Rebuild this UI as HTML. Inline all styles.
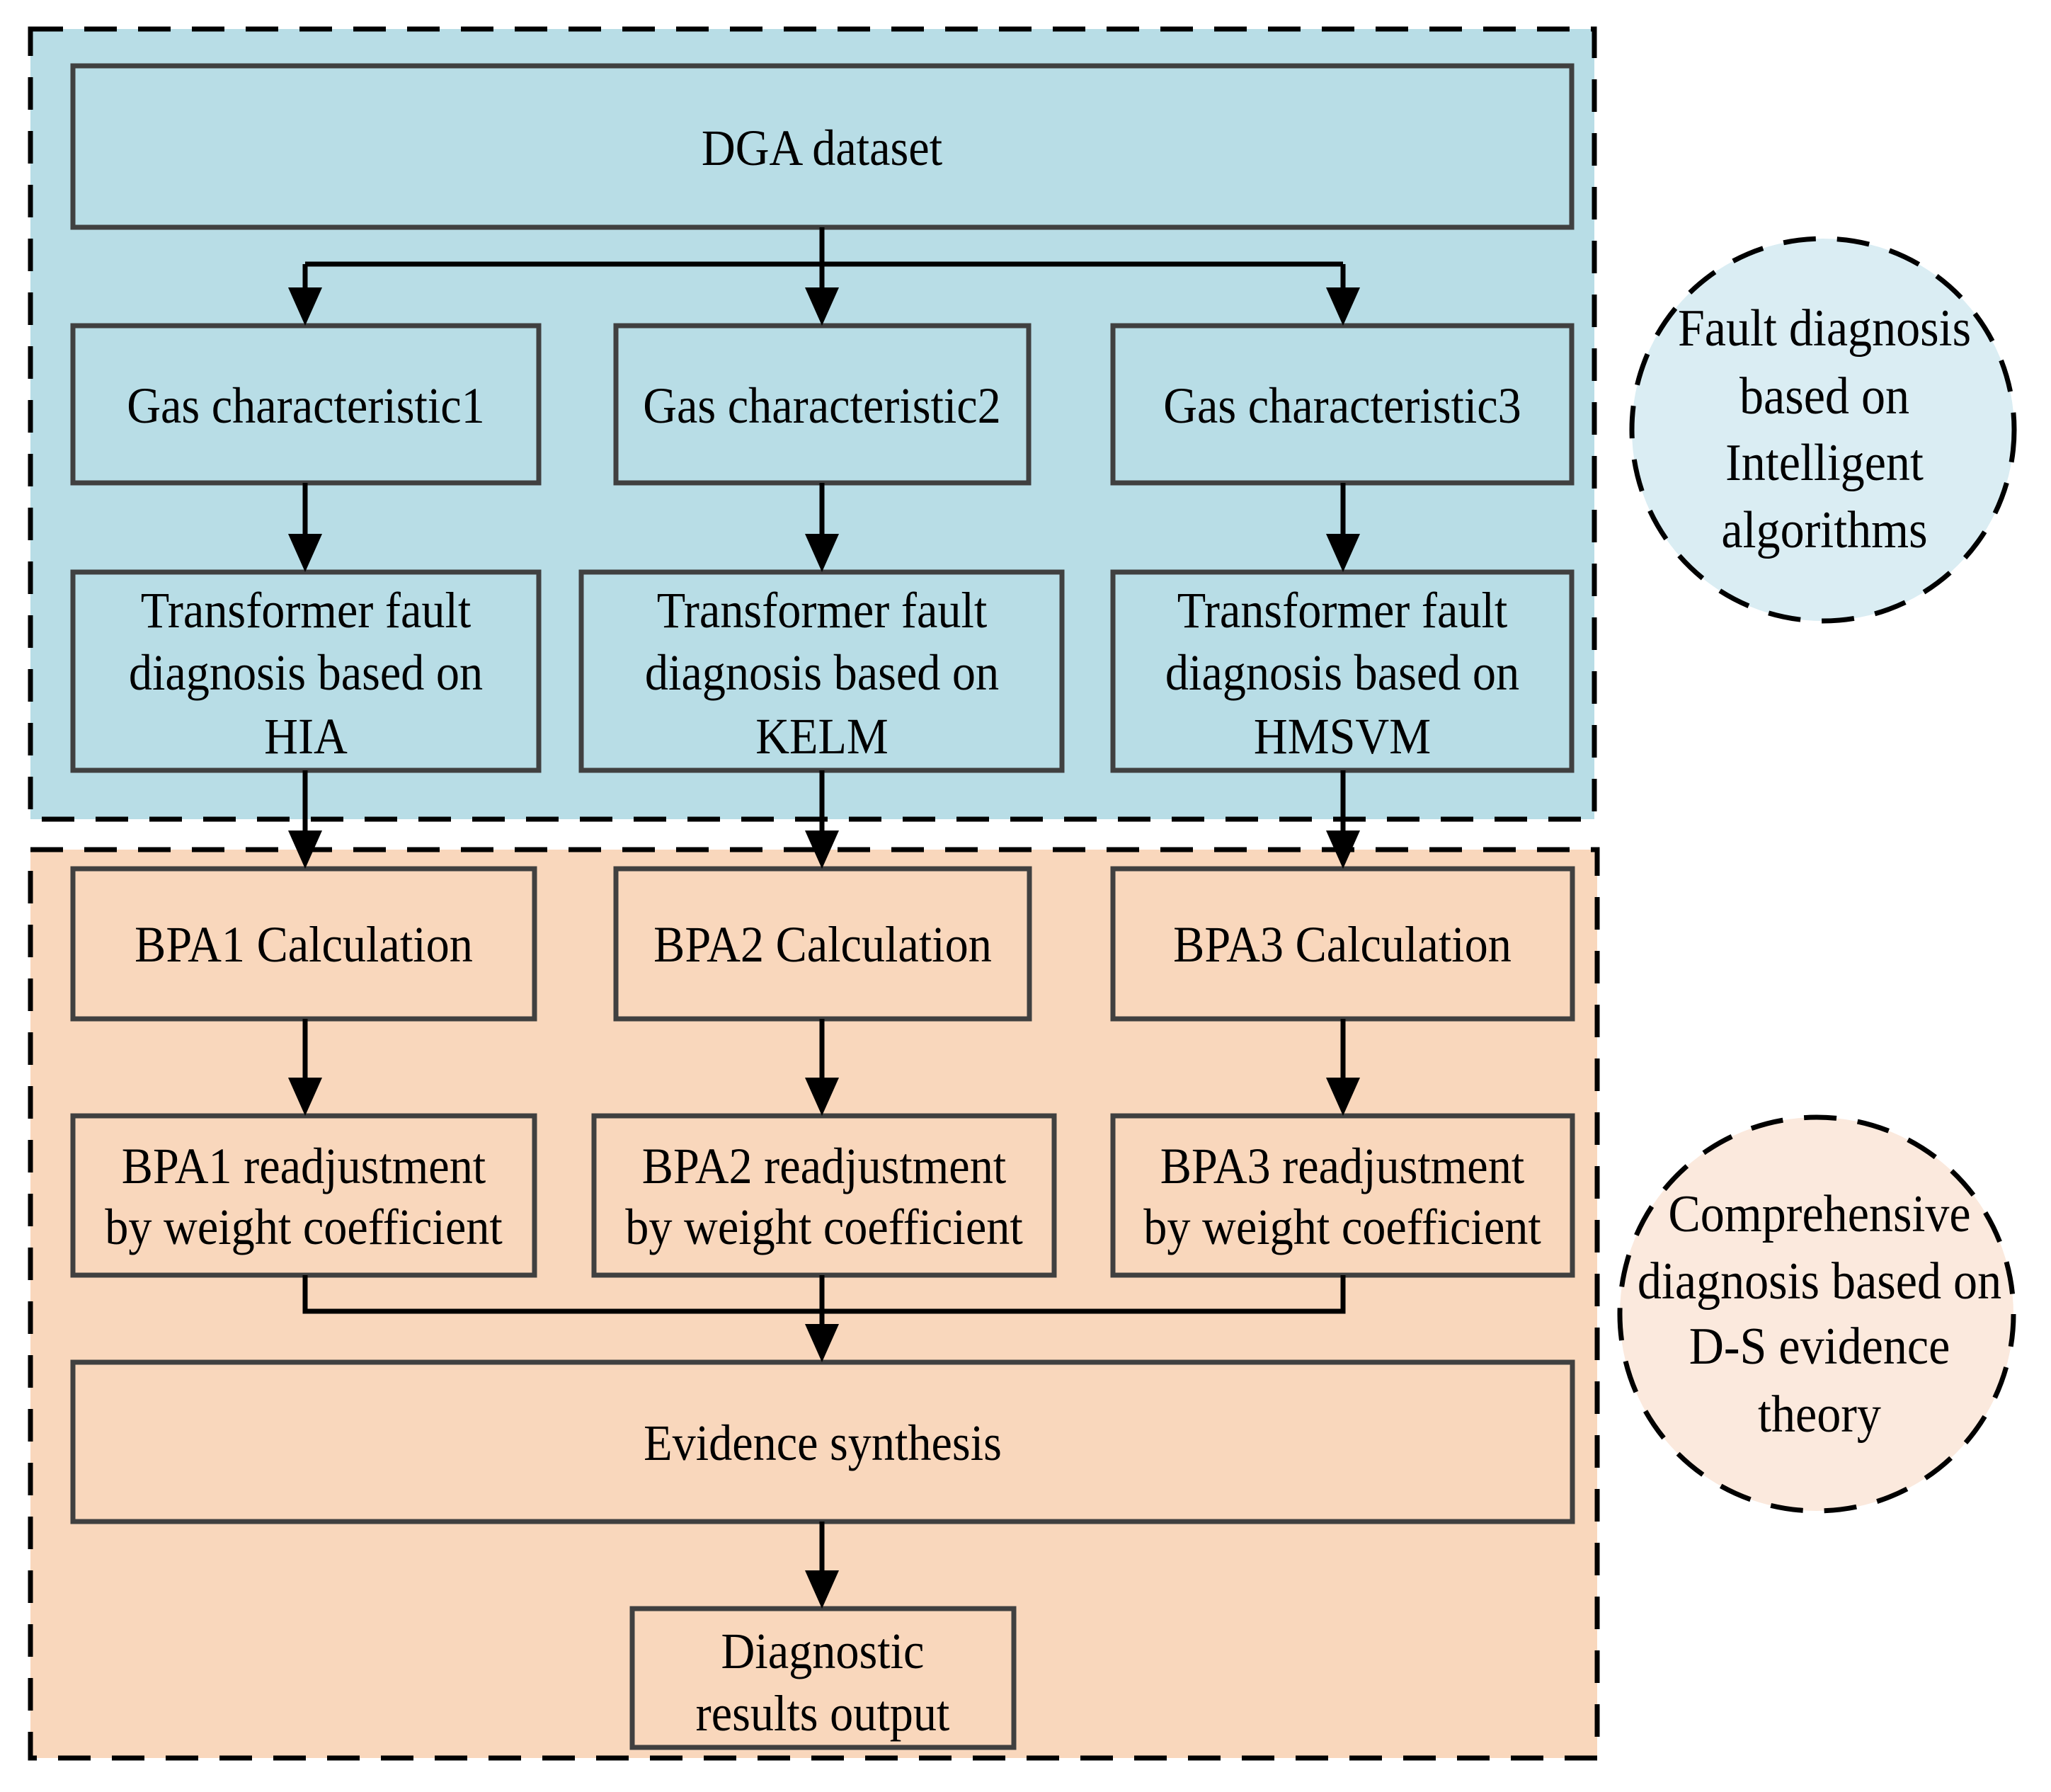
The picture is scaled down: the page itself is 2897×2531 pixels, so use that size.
<!DOCTYPE html>
<html><head><meta charset="utf-8"><style>
html,body{margin:0;padding:0;background:#fff}
svg{display:block}
text{font-family:"Liberation Serif",serif;font-size:72px;fill:#000;text-anchor:middle}
</style></head><body>
<svg width="2897" height="2531" viewBox="0 0 2897 2531" xmlns="http://www.w3.org/2000/svg">
<rect x="43" y="41" width="2209" height="1116" fill="#b8dde6" stroke="#000" stroke-width="7" stroke-dasharray="46,30"/>
<rect x="43" y="1200" width="2213" height="1283" fill="#f9d7bc" stroke="#000" stroke-width="7" stroke-dasharray="46,30"/>
<circle cx="2575" cy="607" r="270" fill="#daedf3" stroke="#000" stroke-width="7" stroke-dasharray="46,30"/>
<circle cx="2566" cy="1856" r="278" fill="#fbe9dd" stroke="#000" stroke-width="7" stroke-dasharray="46,30"/>

<g fill="none" stroke="#404040" stroke-width="7">
<rect x="103" y="93" width="2117" height="228"/>
<rect x="103" y="460" width="658" height="222"/>
<rect x="870" y="460" width="583" height="222"/>
<rect x="1572" y="460" width="648" height="222"/>
<rect x="103" y="808" width="658" height="280"/>
<rect x="821" y="808" width="679" height="280"/>
<rect x="1572" y="808" width="648" height="280"/>
<rect x="103" y="1227" width="652" height="212"/>
<rect x="870" y="1227" width="584" height="212"/>
<rect x="1572" y="1227" width="649" height="212"/>
<rect x="103" y="1576" width="652" height="225"/>
<rect x="839" y="1576" width="650" height="225"/>
<rect x="1572" y="1576" width="649" height="225"/>
<rect x="103" y="1924" width="2118" height="225"/>
<rect x="893" y="2272" width="539" height="196"/>
</g>

<g stroke="#000" stroke-width="7" fill="none">
<path d="M1161 321 V410 M431 373 H1897 M431 373 V410 M1897 373 V410"/>
<path d="M431 682 V758 M1161 682 V758 M1897 682 V758"/>
<path d="M431 1088 V1177 M1161 1088 V1177 M1897 1088 V1177"/>
<path d="M431 1439 V1526 M1161 1439 V1526 M1897 1439 V1526"/>
<path d="M431 1801 V1852 H1897 V1801 M1161 1801 V1874"/>
<path d="M1161 2149 V2222"/>
</g>
<g fill="#000">
<polygon points="407,406 455,406 431,460"/>
<polygon points="1137,406 1185,406 1161,460"/>
<polygon points="1873,406 1921,406 1897,460"/>
<polygon points="407,754 455,754 431,808"/>
<polygon points="1137,754 1185,754 1161,808"/>
<polygon points="1873,754 1921,754 1897,808"/>
<polygon points="407,1173 455,1173 431,1227"/>
<polygon points="1137,1173 1185,1173 1161,1227"/>
<polygon points="1873,1173 1921,1173 1897,1227"/>
<polygon points="407,1522 455,1522 431,1576"/>
<polygon points="1137,1522 1185,1522 1161,1576"/>
<polygon points="1873,1522 1921,1522 1897,1576"/>
<polygon points="1137,1870 1185,1870 1161,1924"/>
<polygon points="1137,2218 1185,2218 1161,2272"/>
</g>

<g transform="translate(1161,0) scale(0.92,1)"><text x="0" y="233">DGA dataset</text></g>
<g transform="translate(432,0) scale(0.92,1)"><text x="0" y="597">Gas characteristic1</text></g>
<g transform="translate(1161,0) scale(0.92,1)"><text x="0" y="597">Gas characteristic2</text></g>
<g transform="translate(1896,0) scale(0.92,1)"><text x="0" y="597">Gas characteristic3</text></g>

<g transform="translate(432,0) scale(0.92,1)"><text x="0" y="886">Transformer fault</text><text x="0" y="974">diagnosis based on</text><text x="0" y="1064">HIA</text></g>
<g transform="translate(1161,0) scale(0.92,1)"><text x="0" y="886">Transformer fault</text><text x="0" y="974">diagnosis based on</text><text x="0" y="1064">KELM</text></g>
<g transform="translate(1896,0) scale(0.92,1)"><text x="0" y="886">Transformer fault</text><text x="0" y="974">diagnosis based on</text><text x="0" y="1064">HMSVM</text></g>

<g transform="translate(429,0) scale(0.92,1)"><text x="0" y="1358">BPA1 Calculation</text></g>
<g transform="translate(1162,0) scale(0.92,1)"><text x="0" y="1358">BPA2 Calculation</text></g>
<g transform="translate(1896,0) scale(0.92,1)"><text x="0" y="1358">BPA3 Calculation</text></g>

<g transform="translate(429,0) scale(0.92,1)"><text x="0" y="1671">BPA1 readjustment</text><text x="0" y="1757">by weight coefficient</text></g>
<g transform="translate(1164,0) scale(0.92,1)"><text x="0" y="1671">BPA2 readjustment</text><text x="0" y="1757">by weight coefficient</text></g>
<g transform="translate(1896,0) scale(0.92,1)"><text x="0" y="1671">BPA3 readjustment</text><text x="0" y="1757">by weight coefficient</text></g>

<g transform="translate(1162,0) scale(0.92,1)"><text x="0" y="2062">Evidence synthesis</text></g>
<g transform="translate(1162,0) scale(0.92,1)"><text x="0" y="2356">Diagnostic</text><text x="0" y="2444">results output</text></g>

<g transform="translate(2577,0) scale(0.92,1)"><text x="0" y="488" style="font-size:74px">Fault diagnosis</text><text x="0" y="584" style="font-size:74px">based on</text><text x="0" y="678" style="font-size:74px">Intelligent</text><text x="0" y="773" style="font-size:74px">algorithms</text></g>
<g transform="translate(2570,0) scale(0.92,1)"><text x="0" y="1739" style="font-size:74px">Comprehensive</text><text x="0" y="1834" style="font-size:74px">diagnosis based on</text><text x="0" y="1926" style="font-size:74px">D-S evidence</text><text x="0" y="2022" style="font-size:74px">theory</text></g>
</svg>
</body></html>
